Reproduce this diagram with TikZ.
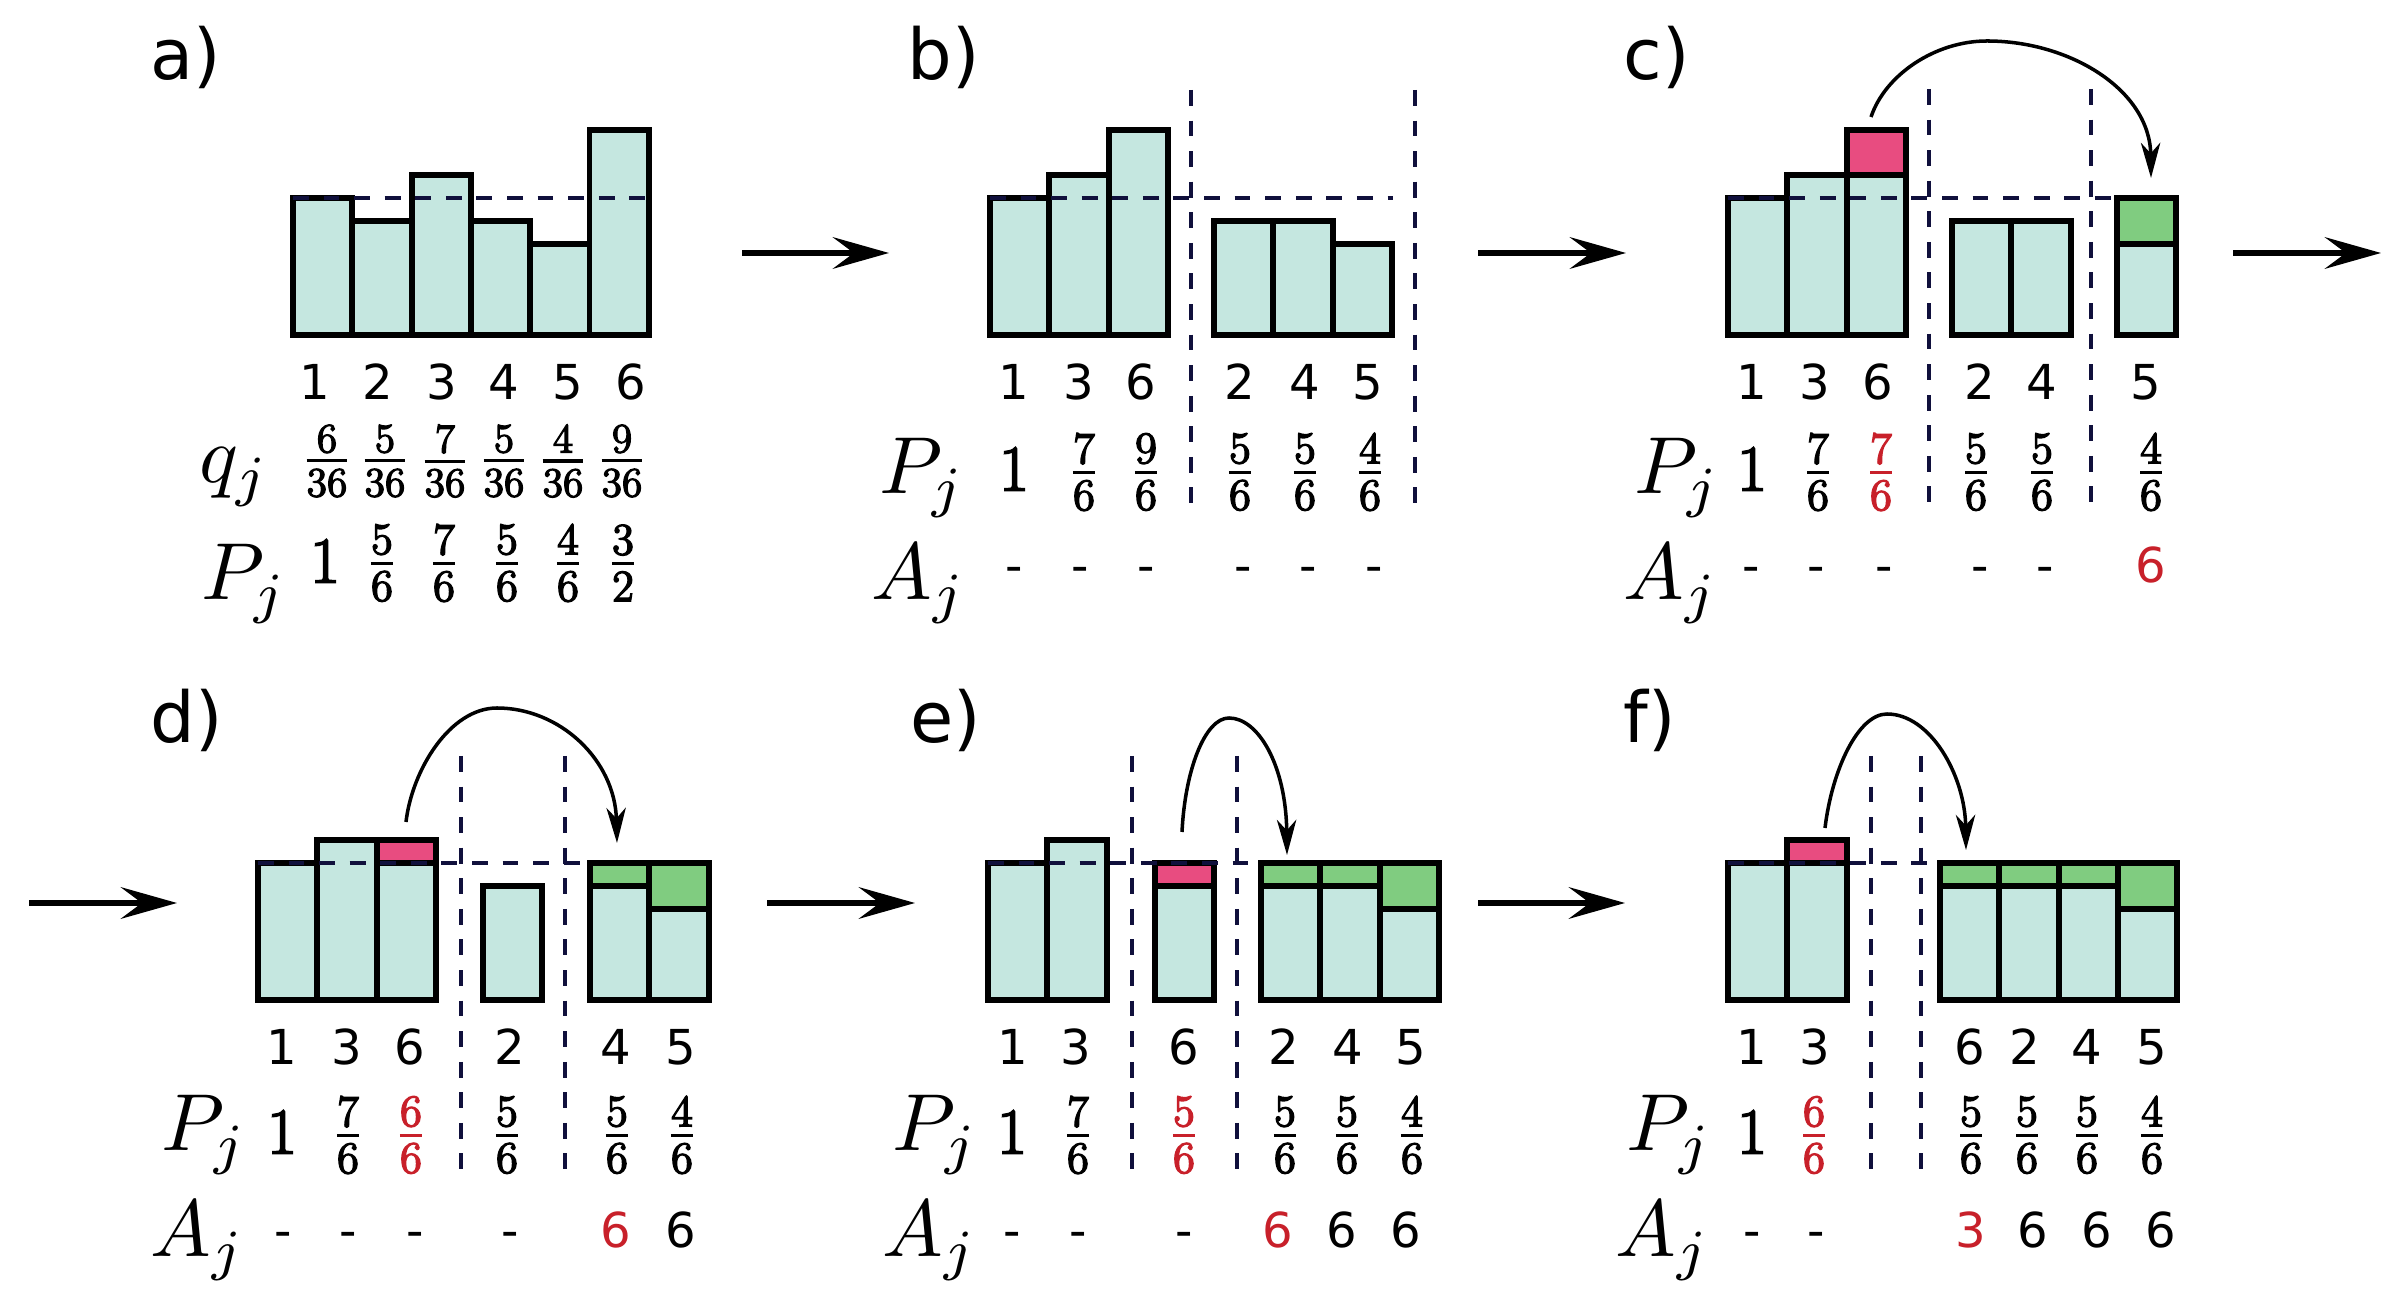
\RequirePackage{fix-cm}
\documentclass[tikz,border=0pt]{standalone}
\usepackage{graphicx}
\usepackage{fontspec}
\newfontfamily\dv{DejaVu Sans}
\newfontfamily\heavy[FakeBold=3]{Latin Modern Roman}
\usetikzlibrary{arrows.meta}
\definecolor{barfill}{HTML}{C5E7E0}
\definecolor{pinkfill}{HTML}{E84C80}
\definecolor{greenfill}{HTML}{80CC80}
\definecolor{redtxt}{HTML}{C8202A}
\definecolor{navy}{HTML}{10103C}
\newcommand\tbar[3]{\draw[bar] (#1,#2) rectangle ({#1+59.3},{#2-#3*22.83});}
\newcommand\cbox[5]{\draw[#5] (#1,{#2-#3*22.83}) rectangle ({#1+59.3},{#2-(#3+#4)*22.83});}
\newcommand\fsz{\heavy\fontsize{12.8}{14}\selectfont}
\newcommand\qsz{\heavy\fontsize{11.8}{13}\selectfont}
\newcommand\fr[2]{${\mbox{\fsz #1}\above 0.95pt\mbox{\fsz #2}}$}
\newcommand\qfr[1]{${\mbox{\qsz #1}\above 0.9pt\mbox{\qsz 36}}$}
\newcommand\one{{\heavy\fontsize{18.5}{20}\selectfont 1}}
\newcommand\vr[1]{\scalebox{2.3}{\fontsize{10}{12}\selectfont$#1$}}
\begin{document}
\begin{tikzpicture}[x=0.1mm,y=-0.1mm,
  bar/.style={fill=barfill,draw=black,line width=1.7pt},
  pnk/.style={fill=pinkfill,draw=black,line width=1.7pt},
  grn/.style={fill=greenfill,draw=black,line width=1.7pt},
  lvl/.style={draw=navy,line width=1.25pt,dash pattern=on 4.5pt off 4.2pt},
  flow/.style={-{Stealth[length=16pt,width=9pt,inset=6pt]},line width=1.7pt},
  jump/.style={-{Stealth[length=10pt,width=5.5pt,inset=3pt]},line width=1pt},
  dig/.style={font=\dv\fontsize{13.7}{15}\selectfont,inner sep=0,anchor=base},
  lab/.style={font=\dv\fontsize{20}{22}\selectfont,inner sep=0,anchor=base west},
  var/.style={inner sep=0,anchor=base west},
  val/.style={inner sep=0,font=\fontsize{18}{20}\selectfont},
  qval/.style={inner sep=0,font=\fontsize{17}{19}\selectfont},
  hot/.style={text=redtxt}]
\fill[white] (0,0) rectangle (2408,1302);
\useasboundingbox (0,0) rectangle (2408,1302);

% ---------------- panel a
\node[lab] (la) at (150,80) {a)};
\foreach \x/\n in {293/6,352.3/5,411.6/7,470.9/5,530.2/4,589.5/9} {\tbar{\x}{335}{\n}}
\coordinate (aL) at (293,198); \coordinate (aR) at (649,198);
\draw[lvl] (aL) -- (aR);
\foreach \x/\t [count=\i] in {315/1,378/2,442/3,504/4,568/5,631/6}
  \node[dig] (a-d\i) at (\x,400) {\t};
\node[var] (a-q) at (199,483) {\vr{q_j}};
\foreach \x/\n [count=\i] in {327/6,385/5,445/7,504/5,563/4,622/9}
  \node[qval] (a-q\i) at (\x,461) {\qfr{\n}};
\node[var] (a-P) at (201,600) {\vr{P_j}};
\node[val] (a-p1) at (325,561) {\one};
\foreach \x/\n/\d [count=\i from 2] in {382/5/6,444/7/6,507/5/6,568/4/6,623/3/2}
  \node[val] (a-p\i) at (\x,563) {\fr{\n}{\d}};

\coordinate (ab1) at (742,253); \coordinate (ab2) at (889,253);
\draw[flow] (ab1) -- (ab2);

% ---------------- panel b
\node[lab] (lb) at (907,80) {b)};
\foreach \x/\n in {990/6,1049.3/7,1108.6/9,1214/5,1273.3/5,1332.6/4} {\tbar{\x}{335}{\n}}
\coordinate (bL) at (990,198); \coordinate (bR) at (1393,198);
\draw[lvl] (bL) -- (bR);
\coordinate (bv1t) at (1191,90); \coordinate (bv1b) at (1191,511);
\coordinate (bv2t) at (1415,90); \coordinate (bv2b) at (1415,511);
\draw[lvl] (bv1t) -- (bv1b);
\draw[lvl] (bv2t) -- (bv2b);
\foreach \x/\t [count=\i] in {1014/1,1079/3,1141/6,1240/2,1305/4,1368/5}
  \node[dig] (b-d\i) at (\x,400) {\t};
\node[var] (b-P) at (879,494) {\vr{P_j}};
\node[val] (b-p1) at (1014,469) {\one};
\foreach \x/\n [count=\i from 2] in {1084/7,1146/9,1240/5,1305/5,1370/4}
  \node[val] (b-p\i) at (\x,472) {\fr{\n}{6}};
\node[var] (b-A) at (871,600) {\vr{A_j}};
\foreach \x [count=\i] in {1014,1080,1146,1243,1308,1374}
  \node[dig] (b-a\i) at (\x,583) {-};

\coordinate (bc1) at (1478,253); \coordinate (bc2) at (1626,253);
\draw[flow] (bc1) -- (bc2);

% ---------------- panel c
\node[lab] (lc) at (1623,80) {c)};
\foreach \x/\n in {1728/6,1787.3/7,1846.6/7,1952/5,2011.3/5,2117/4} {\tbar{\x}{335}{\n}}
\cbox{1846.6}{335}{7}{2}{pnk}
\cbox{2117}{335}{4}{2}{grn}
\coordinate (cL) at (1728,198); \coordinate (cR) at (2117,198);
\draw[lvl] (cL) -- (cR);
\coordinate (cv1t) at (1929,89); \coordinate (cv1b) at (1929,510);
\coordinate (cv2t) at (2091,89); \coordinate (cv2b) at (2091,510);
\draw[lvl] (cv1t) -- (cv1b);
\draw[lvl] (cv2t) -- (cv2b);
\foreach \x/\t [count=\i] in {1752/1,1815/3,1878/6,1980/2,2042/4,2146/5}
  \node[dig] (c-d\i) at (\x,400) {\t};
\node[var] (c-P) at (1634,494) {\vr{P_j}};
\node[val] (c-p1) at (1752,469) {\one};
\node[val] (c-p2) at (1818,472) {\fr{7}{6}};
\node[val,hot] (c-p3) at (1881,472) {\fr{7}{6}};
\node[val] (c-p4) at (1976,472) {\fr{5}{6}};
\node[val] (c-p5) at (2042,472) {\fr{5}{6}};
\node[val] (c-p6) at (2151,472) {\fr{4}{6}};
\node[var] (c-A) at (1623,600) {\vr{A_j}};
\foreach \x [count=\i] in {1751,1816,1884,1980,2045}
  \node[dig] (c-a\i) at (\x,583) {-};
\node[dig,hot] (c-a6) at (2151,583) {6};
\coordinate (cS) at (1871,117); \coordinate (cE) at (2151,178);
\draw[jump] (cS) .. controls (1885,75) and (1935,41) .. (1987,41)
  .. controls (2070,41) and (2150,90) .. (cE);

\coordinate (co1) at (2233,253); \coordinate (co2) at (2381,253);
\draw[flow] (co1) -- (co2);

% ---------------- panel d
\coordinate (di1) at (29,903); \coordinate (di2) at (177,903);
\draw[flow] (di1) -- (di2);
\node[lab] (ld) at (150,743) {d)};
\foreach \x/\n in {258/6,317.3/7,376.6/6,483/5,590/5,649.3/4} {\tbar{\x}{1000}{\n}}
\cbox{376.6}{1000}{6}{1}{pnk}
\cbox{590}{1000}{5}{1}{grn}
\cbox{649.3}{1000}{4}{2}{grn}
\coordinate (dL) at (258,863); \coordinate (dR) at (590,863);
\draw[lvl] (dL) -- (dR);
\coordinate (dv1t) at (461,756); \coordinate (dv1b) at (461,1177);
\coordinate (dv2t) at (565,756); \coordinate (dv2b) at (565,1177);
\draw[lvl] (dv1t) -- (dv1b);
\draw[lvl] (dv2t) -- (dv2b);
\foreach \x/\t [count=\i] in {282/1,347/3,410/6,510/2,616/4,681/5}
  \node[dig] (d-d\i) at (\x,1065) {\t};
\node[var] (d-P) at (161,1151) {\vr{P_j}};
\node[val] (d-p1) at (282,1132) {\one};
\node[val] (d-p2) at (348,1135) {\fr{7}{6}};
\node[val,hot] (d-p3) at (411,1135) {\fr{6}{6}};
\node[val] (d-p4) at (507,1135) {\fr{5}{6}};
\node[val] (d-p5) at (617,1135) {\fr{5}{6}};
\node[val] (d-p6) at (682,1135) {\fr{4}{6}};
\node[var] (d-A) at (150,1257) {\vr{A_j}};
\foreach \x [count=\i] in {283,348,415,510}
  \node[dig] (d-a\i) at (\x,1248) {-};
\node[dig,hot] (d-a5) at (616,1248) {6};
\node[dig] (d-a6) at (681,1248) {6};
\coordinate (dS) at (406,822); \coordinate (dE) at (617,843);
\draw[jump] (dS) .. controls (412,770) and (450,708) .. (497,708)
  .. controls (560,708) and (615,760) .. (dE);

\coordinate (de1) at (767,903); \coordinate (de2) at (915,903);
\draw[flow] (de1) -- (de2);

% ---------------- panel e
\node[lab] (le) at (910,743) {e)};
\foreach \x/\n in {988/6,1047.3/7,1155/5,1261/5,1320.3/5,1379.6/4} {\tbar{\x}{1000}{\n}}
\cbox{1155}{1000}{5}{1}{pnk}
\cbox{1261}{1000}{5}{1}{grn}
\cbox{1320.3}{1000}{5}{1}{grn}
\cbox{1379.6}{1000}{4}{2}{grn}
\coordinate (eL) at (988,863); \coordinate (eR) at (1261,863);
\draw[lvl] (eL) -- (eR);
\coordinate (ev1t) at (1132,756); \coordinate (ev1b) at (1132,1177);
\coordinate (ev2t) at (1237,756); \coordinate (ev2b) at (1237,1177);
\draw[lvl] (ev1t) -- (ev1b);
\draw[lvl] (ev2t) -- (ev2b);
\foreach \x/\t [count=\i] in {1013/1,1076/3,1184/6,1284/2,1348/4,1411/5}
  \node[dig] (e-d\i) at (\x,1065) {\t};
\node[var] (e-P) at (892,1151) {\vr{P_j}};
\node[val] (e-p1) at (1012,1132) {\one};
\node[val] (e-p2) at (1078,1135) {\fr{7}{6}};
\node[val,hot] (e-p3) at (1184,1135) {\fr{5}{6}};
\node[val] (e-p4) at (1285,1135) {\fr{5}{6}};
\node[val] (e-p5) at (1347,1135) {\fr{5}{6}};
\node[val] (e-p6) at (1412,1135) {\fr{4}{6}};
\node[var] (e-A) at (882,1257) {\vr{A_j}};
\foreach \x [count=\i] in {1012,1078,1184}
  \node[dig] (e-a\i) at (\x,1248) {-};
\node[dig,hot] (e-a4) at (1278,1248) {6};
\node[dig] (e-a5) at (1342,1248) {6};
\node[dig] (e-a6) at (1406,1248) {6};
\coordinate (eS) at (1182,832); \coordinate (eE) at (1287,855);
\draw[jump] (eS) .. controls (1185,770) and (1205,718) .. (1229,718)
  .. controls (1258,718) and (1286,765) .. (eE);

\coordinate (ef1) at (1478,903); \coordinate (ef2) at (1625,903);
\draw[flow] (ef1) -- (ef2);

% ---------------- panel f
\node[lab] (lf) at (1623,743) {f)};
\foreach \x/\n in {1728/6,1787.3/6,1940/5,1999.3/5,2058.6/5,2117.9/4} {\tbar{\x}{1000}{\n}}
\cbox{1787.3}{1000}{6}{1}{pnk}
\cbox{1940}{1000}{5}{1}{grn}
\cbox{1999.3}{1000}{5}{1}{grn}
\cbox{2058.6}{1000}{5}{1}{grn}
\cbox{2117.9}{1000}{4}{2}{grn}
\coordinate (fL) at (1728,863); \coordinate (fR) at (1940,863);
\draw[lvl] (fL) -- (fR);
\coordinate (fv1t) at (1871,756); \coordinate (fv1b) at (1871,1177);
\coordinate (fv2t) at (1921,756); \coordinate (fv2b) at (1921,1177);
\draw[lvl] (fv1t) -- (fv1b);
\draw[lvl] (fv2t) -- (fv2b);
\foreach \x/\t [count=\i] in {1752/1,1815/3,1970/6,2025/2,2087/4,2152/5}
  \node[dig] (f-d\i) at (\x,1065) {\t};
\node[var] (f-P) at (1626,1151) {\vr{P_j}};
\node[val] (f-p1) at (1752,1132) {\one};
\node[val,hot] (f-p2) at (1814,1135) {\fr{6}{6}};
\node[val] (f-p3) at (1971,1135) {\fr{5}{6}};
\node[val] (f-p4) at (2027,1135) {\fr{5}{6}};
\node[val] (f-p5) at (2087,1135) {\fr{5}{6}};
\node[val] (f-p6) at (2152,1135) {\fr{4}{6}};
\node[var] (f-A) at (1615,1257) {\vr{A_j}};
\node[dig] (f-a1) at (1752,1248) {-};
\node[dig] (f-a2) at (1816,1248) {-};
\node[dig,hot] (f-a3) at (1971,1248) {3};
\node[dig] (f-a4) at (2033,1248) {6};
\node[dig] (f-a5) at (2097,1248) {6};
\node[dig] (f-a6) at (2161,1248) {6};
\coordinate (fS) at (1825,828); \coordinate (fE) at (1966,850);
\draw[jump] (fS) .. controls (1832,770) and (1858,714) .. (1887,714)
  .. controls (1930,714) and (1965,775) .. (fE);
\end{tikzpicture}
\end{document}
